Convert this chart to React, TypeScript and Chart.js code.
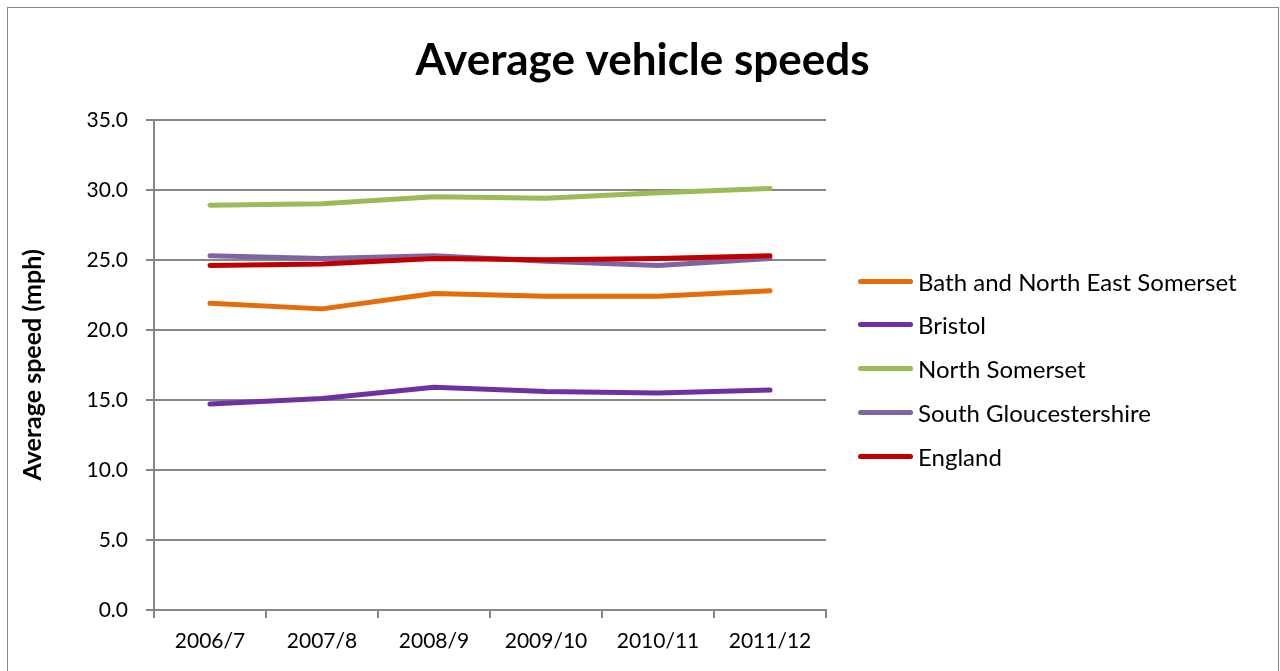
import React, { useEffect, useRef } from "react";
import { Chart, registerables } from "chart.js";

Chart.register(...registerables);

const categories = ["2006/7", "2007/8", "2008/9", "2009/10", "2010/11", "2011/12"];
const bathNES = [21.9, 21.5, 22.6, 22.4, 22.4, 22.8];
const bristol = [14.7, 15.1, 15.9, 15.6, 15.5, 15.7];
const northSomerset = [28.9, 29.0, 29.5, 29.4, 29.8, 30.1];
const southGlos = [25.3, 25.1, 25.3, 24.9, 24.6, 25.1];
const england = [24.6, 24.7, 25.1, 25.0, 25.1, 25.3];

const seriesNames = ["Bath and North East Somerset", "Bristol", "North Somerset", "South Gloucestershire", "England"];
const seriesColors = ["#E46C0A", "#7030A0", "#9BBB59", "#8064A2", "#C00000"];
const seriesValues = [bathNES, bristol, northSomerset, southGlos, england];

const FONT = "Lato, 'Noto Sans', sans-serif";

export default function App() {
  const ref = useRef<HTMLCanvasElement>(null);
  useEffect(() => {
    if (!ref.current) return;
    const chart = new Chart(ref.current, {
      type: "line",
      data: {
        labels: categories,
        datasets: seriesValues.map((vals, i) => ({
          label: seriesNames[i],
          data: vals,
          borderColor: seriesColors[i],
          backgroundColor: seriesColors[i],
          borderWidth: 5,
          pointRadius: 0,
          tension: 0,
          borderCapStyle: "round" as const,
          borderJoinStyle: "round" as const,
          order: seriesValues.length - i,
          yAxisID: "y",
        })),
      },
      options: {
        responsive: false,
        animation: false,
        layout: { padding: 0 },
        plugins: {
          legend: { display: false },
          tooltip: { enabled: false },
          title: {
            display: true,
            text: "Average vehicle speeds",
            color: "#000",
            font: { family: FONT, size: 44, weight: "bold", lineHeight: 1.2 },
            padding: { top: 26, bottom: 33 },
          },
        },
        scales: {
          x: {
            offset: true,
            grid: {
              offset: true,
              drawOnChartArea: false,
              drawTicks: true,
              tickLength: 8,
              color: "#868686",
              lineWidth: 2,
            },
            border: { color: "#868686", width: 2 },
            ticks: {
              color: "#000",
              font: { family: FONT, size: 21 },
              padding: 11,
              maxRotation: 0,
              autoSkip: false,
            },
            afterFit: (scale: any) => {
              scale.height = 61;
            },
          },
          y: {
            position: "left",
            min: 0,
            max: 35,
            grid: { color: "#868686", lineWidth: 2, tickLength: 8 },
            border: { color: "#868686", width: 2 },
            ticks: {
              stepSize: 5,
              color: "#000",
              font: { family: FONT, size: 21 },
              padding: 18,
              callback: (v: any) => Number(v).toFixed(1),
            },
            title: {
              display: true,
              text: "Average speed (mph)",
              color: "#000",
              font: { family: FONT, size: 25, weight: "bold", lineHeight: 1.2 },
              padding: { top: 10, bottom: 0 },
            },
            afterFit: (scale: any) => {
              scale.width = 146;
            },
          },
          legendSpace: {
            type: "linear",
            position: "right",
            display: true,
            grid: { display: false },
            border: { display: false },
            ticks: { display: false },
            afterFit: (scale: any) => {
              scale.width = 451;
            },
          },
        },
      },
    });
    return () => chart.destroy();
  }, []);

  const legendCenters = [281, 324, 368, 412, 456];

  return (
    <div
      style={{
        position: "fixed",
        left: 7,
        top: 7,
        width: 1270,
        height: 690,
        border: "1px solid #868686",
        background: "#fff",
      }}
    >
      <canvas ref={ref} width={1269} height={663} style={{ position: "absolute", left: 0, top: 0 }} />
      {seriesNames.map((name, i) => (
        <div
          key={name}
          style={{
            position: "absolute",
            left: 858 - 8,
            top: legendCenters[i] - 8 - 15,
            height: 30,
            display: "flex",
            alignItems: "center",
            fontFamily: FONT,
            fontSize: 24,
            color: "#000",
            whiteSpace: "nowrap",
          }}
        >
          <div
            style={{
              width: 55,
              height: 5,
              borderRadius: 3,
              background: seriesColors[i],
              marginRight: 5,
            }}
          />
          <span>{name}</span>
        </div>
      ))}
    </div>
  );
}
